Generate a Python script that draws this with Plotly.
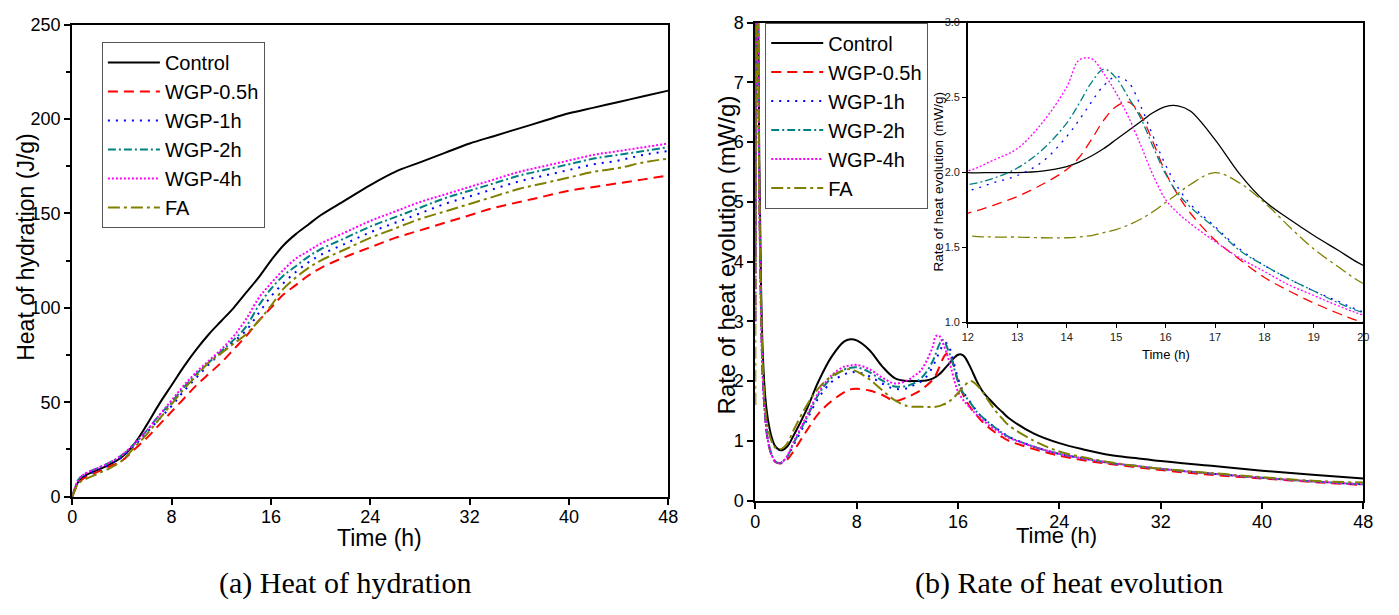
import plotly.graph_objects as go

# ---- data ----
series_names = ["Control", "WGP-0.5h", "WGP-1h", "WGP-2h", "WGP-4h", "FA"]

# (a) cumulative heat of hydration, J/g
t_heat = [0, 0.5, 1, 2, 3, 4, 5, 6, 7, 8, 9, 10, 11, 12, 13, 14, 15, 16, 17, 18,
          19, 20, 22, 24, 26, 28, 30, 32, 34, 36, 38, 40, 42, 44, 46, 48]
heat_control = [0, 8, 11, 14, 17, 21, 28, 38, 49, 59, 69, 78, 86, 93, 100, 108, 116, 125, 133, 139,
                144, 149, 157, 165, 172, 177, 182, 187, 191, 195, 199, 203, 206, 209, 212, 215]
heat_wgp05 = [0, 7, 10, 13, 16, 19, 25, 31, 38, 45, 52, 59, 65, 71, 78, 85, 93, 100, 107, 112,
              117, 121, 127, 132, 137, 141, 145, 149, 153, 156, 159, 162, 164, 166, 168, 170]
heat_wgp1 = [0, 8, 11, 14, 17, 21, 27, 34, 41, 48, 56, 63, 70, 76, 82, 88, 97, 106, 113, 119,
             124, 128, 134, 140, 145, 150, 155, 159, 163, 167, 170, 173, 176, 178, 181, 183]
heat_wgp2 = [0, 9, 12, 15, 18, 22, 28, 35, 43, 50, 58, 65, 71, 77, 83, 90, 101, 110, 117, 122,
             127, 131, 137, 143, 148, 153, 158, 162, 166, 170, 173, 176, 179, 181, 183, 185]
heat_wgp4 = [0, 9, 12, 15, 18, 22, 28, 35, 43, 51, 59, 66, 72, 78, 85, 94, 105, 113, 120, 126,
             130, 134, 140, 146, 151, 156, 160, 164, 168, 172, 175, 178, 181, 183, 185, 187]
heat_fa = [0, 7, 9, 12, 15, 19, 26, 33, 41, 49, 57, 64, 71, 76, 81, 86, 93, 101, 110, 116,
           121, 125, 131, 137, 142, 147, 151, 155, 159, 163, 166, 169, 172, 174, 177, 179]

# (b) rate of heat evolution, mW/g
t_rate = [0, 0.1, 0.2, 0.3, 0.45, 0.6, 0.8, 1.0, 1.3, 1.6,
          2.0, 2.5, 3, 4, 5, 6, 7, 7.5, 8, 9,
          10, 11, 12, 12.5, 13, 13.5, 14, 14.25, 14.5, 14.75,
          15, 15.25, 15.5, 15.75, 16, 16.25, 16.5, 17, 17.5, 18,
          18.5, 19, 19.5, 20, 22, 24, 26, 28, 30, 32,
          36, 40, 44, 48]
rate_control = [4, 11, 9, 6, 3.6, 2.4, 1.7, 1.35, 1.05, 0.9,
                0.84, 0.9, 1.08, 1.5, 2.0, 2.4, 2.66, 2.7, 2.68, 2.52,
                2.25, 2.05, 2.0, 2.0, 2.0, 2.01, 2.04, 2.07, 2.11, 2.16,
                2.22, 2.28, 2.34, 2.4, 2.44, 2.445, 2.41, 2.22, 1.99, 1.81,
                1.69, 1.58, 1.48, 1.38, 1.12, 0.96, 0.85, 0.76, 0.71, 0.66,
                0.58, 0.5, 0.43, 0.37]
rate_wgp05 = [3, 10, 8.5, 5.5, 3.2, 2.0, 1.35, 0.98, 0.75, 0.64,
              0.62, 0.68, 0.82, 1.15, 1.46, 1.66, 1.81, 1.86, 1.87, 1.84,
              1.77, 1.67, 1.73, 1.78, 1.84, 1.92, 2.02, 2.1, 2.22, 2.35,
              2.44, 2.47, 2.38, 2.2, 2.0, 1.85, 1.73, 1.55, 1.42, 1.3,
              1.21, 1.13, 1.06, 1.0, 0.86, 0.75, 0.67, 0.61, 0.56, 0.51,
              0.43, 0.37, 0.31, 0.26]
rate_wgp1 = [3, 10, 8.5, 5.5, 3.2, 2.0, 1.35, 1.0, 0.76, 0.65,
             0.63, 0.72, 0.92, 1.32, 1.72, 1.98, 2.11, 2.14, 2.15, 2.08,
             1.96, 1.87, 1.88, 1.93, 1.98, 2.07, 2.24, 2.35, 2.47, 2.58,
             2.64, 2.6, 2.44, 2.24, 2.05, 1.9, 1.79, 1.64, 1.49, 1.38,
             1.29, 1.21, 1.14, 1.07, 0.9, 0.78, 0.7, 0.63, 0.58, 0.53,
             0.45, 0.38, 0.32, 0.27]
rate_wgp2 = [3, 10, 8.5, 5.5, 3.2, 2.0, 1.35, 1.0, 0.76, 0.65,
             0.63, 0.73, 0.95, 1.36, 1.78, 2.05, 2.19, 2.22, 2.23, 2.15,
             2.01, 1.91, 1.92, 1.96, 2.03, 2.15, 2.33, 2.46, 2.6, 2.69,
             2.63, 2.5, 2.36, 2.17, 1.99, 1.86, 1.77, 1.63, 1.48, 1.38,
             1.29, 1.21, 1.13, 1.065, 0.9, 0.78, 0.7, 0.63, 0.58, 0.53,
             0.45, 0.38, 0.32, 0.27]
rate_wgp4 = [3, 10, 8.5, 5.5, 3.2, 2.0, 1.35, 1.0, 0.76, 0.65,
             0.63, 0.74, 0.97, 1.39, 1.81, 2.09, 2.24, 2.26, 2.27, 2.2,
             2.06, 1.96, 2.01, 2.08, 2.16, 2.33, 2.57, 2.75, 2.76, 2.66,
             2.53, 2.37, 2.18, 1.98, 1.82, 1.73, 1.66, 1.54, 1.43, 1.34,
             1.25, 1.18, 1.11, 1.05, 0.9, 0.78, 0.7, 0.63, 0.58, 0.53,
             0.45, 0.38, 0.32, 0.27]
rate_fa = [1.6, 8, 8.5, 5.5, 3.3, 2.2, 1.5, 1.2, 0.98, 0.88,
           0.86, 0.95, 1.17, 1.57, 1.88, 2.08, 2.18, 2.2, 2.16, 2.03,
           1.85, 1.68, 1.58, 1.57, 1.57, 1.565, 1.565, 1.57, 1.58, 1.6,
           1.62, 1.65, 1.69, 1.74, 1.8, 1.86, 1.92, 2.0, 1.93, 1.8,
           1.64, 1.49, 1.37, 1.26, 1.0, 0.82, 0.72, 0.64, 0.58, 0.53,
           0.46, 0.39, 0.33, 0.3]

heat_values = [heat_control, heat_wgp05, heat_wgp1, heat_wgp2, heat_wgp4, heat_fa]
rate_values = [rate_control, rate_wgp05, rate_wgp1, rate_wgp2, rate_wgp4, rate_fa]

colors = ["#000000", "#ff0000", "#0000ff", "#008080", "#ff00ff", "#808000"]
dashes = ["solid", "10px,6px", "2px,6px", "8px,3px,2px,3px", "2px,2px", "12px,4px,3px,4px"]

W, H = 1399, 615


def fx(p):
    return p / W


def fy(p):
    return 1 - p / H


SANS = "Liberation Sans, Arial, sans-serif"
SERIF = "Liberation Serif, Times New Roman, serif"

fig = go.Figure()

for name, hv, rv, c, d in zip(series_names, heat_values, rate_values, colors, dashes):
    fig.add_trace(go.Scatter(x=t_heat, y=hv, name=name, mode="lines",
                             line=dict(color=c, width=2, dash=d, shape="spline"),
                             xaxis="x", yaxis="y", legend="legend"))
    fig.add_trace(go.Scatter(x=t_rate, y=rv, name=name, mode="lines",
                             line=dict(color=c, width=2, dash=d, shape="spline"),
                             xaxis="x2", yaxis="y2", legend="legend2"))
    fig.add_trace(go.Scatter(x=t_rate, y=rv, name=name, mode="lines", showlegend=False,
                             line=dict(color=c, width=1.3, dash=d, shape="spline"),
                             xaxis="x3", yaxis="y3"))

main_axis = dict(showline=True, mirror=True, linecolor="black", linewidth=2,
                 ticks="outside", ticklen=6, tickwidth=2, tickcolor="black",
                 showgrid=False, zeroline=False,
                 tickfont=dict(family=SANS, size=18, color="black"))
inset_axis = dict(showline=True, mirror=True, linecolor="black", linewidth=1.5,
                  ticks="outside", ticklen=4, tickwidth=1, tickcolor="black",
                  showgrid=False, zeroline=False,
                  tickfont=dict(family=SANS, size=11, color="#222"))

legend_style = dict(bgcolor="white", bordercolor="#555", borderwidth=1,
                    font=dict(family=SANS, size=20, color="black"),
                    itemwidth=52, xanchor="left", yanchor="top",
                    tracegroupgap=0)

fig.update_layout(
    width=W, height=H,
    margin=dict(l=0, r=0, t=0, b=0),
    paper_bgcolor="white", plot_bgcolor="white",
    xaxis=dict(main_axis, domain=[fx(67), fx(670)], range=[0, 48], tickvals=list(range(0, 49, 8)),
               anchor="y", ticklabelstandoff=-3),
    yaxis=dict(main_axis, domain=[fy(503), fy(15)], range=[0, 250], dtick=50, anchor="x",
               minor=dict(dtick=25, ticks="outside", ticklen=4, tickcolor="black", tickwidth=1.5)),
    xaxis2=dict(main_axis, domain=[fx(758), fx(1373)], range=[0, 48], tickvals=list(range(0, 49, 8)),
                anchor="y2", ticklabelstandoff=-2),
    yaxis2=dict(main_axis, domain=[fy(507), fy(13)], range=[0, 8], dtick=1, anchor="x2"),
    xaxis3=dict(inset_axis, domain=[fx(973), fx(1373)], range=[12, 20], dtick=1, anchor="y3"),
    yaxis3=dict(inset_axis, domain=[fy(323), fy(13)], range=[1, 3], dtick=0.5, tickformat=".1f", anchor="x3"),
    legend=dict(legend_style, x=fx(97), y=fy(33)),
    legend2=dict(legend_style, x=fx(768), y=fy(13)),
    showlegend=True,
)

texts = [
    ("Heat of hydration (J/g)", 20, 245, 23, SANS, -90),
    ("Rate of heat evolution (mW/g)", 729, 253, 24, SANS, -90),
    ("Time (h)", 378, 546, 23, SANS, 0),
    ("Time (h)", 1063, 543, 22, SANS, 0),
    ("Time (h)", 1173, 356, 13, SANS, 0),
    ("Rate of heat evolution (mW/g)", 943, 178, 13.5, SANS, -90),
    ("(a) Heat of hydration", 343, 592, 30, SERIF, 0),
    ("(b) Rate of heat evolution", 1075, 592, 30, SERIF, 0),
]
for txt, x, y, size, fam, ang in texts:
    fig.add_annotation(text=txt, xref="paper", yref="paper", x=fx(x), y=fy(y),
                       xanchor="center", yanchor="middle", showarrow=False, textangle=ang,
                       font=dict(family=fam, size=size, color="black"))

# drop the default 8px page margin so the figure sits at the window's corner
fig.write_html("out.html", config={"displayModeBar": False},
               post_script="document.body.style.margin='0';")
